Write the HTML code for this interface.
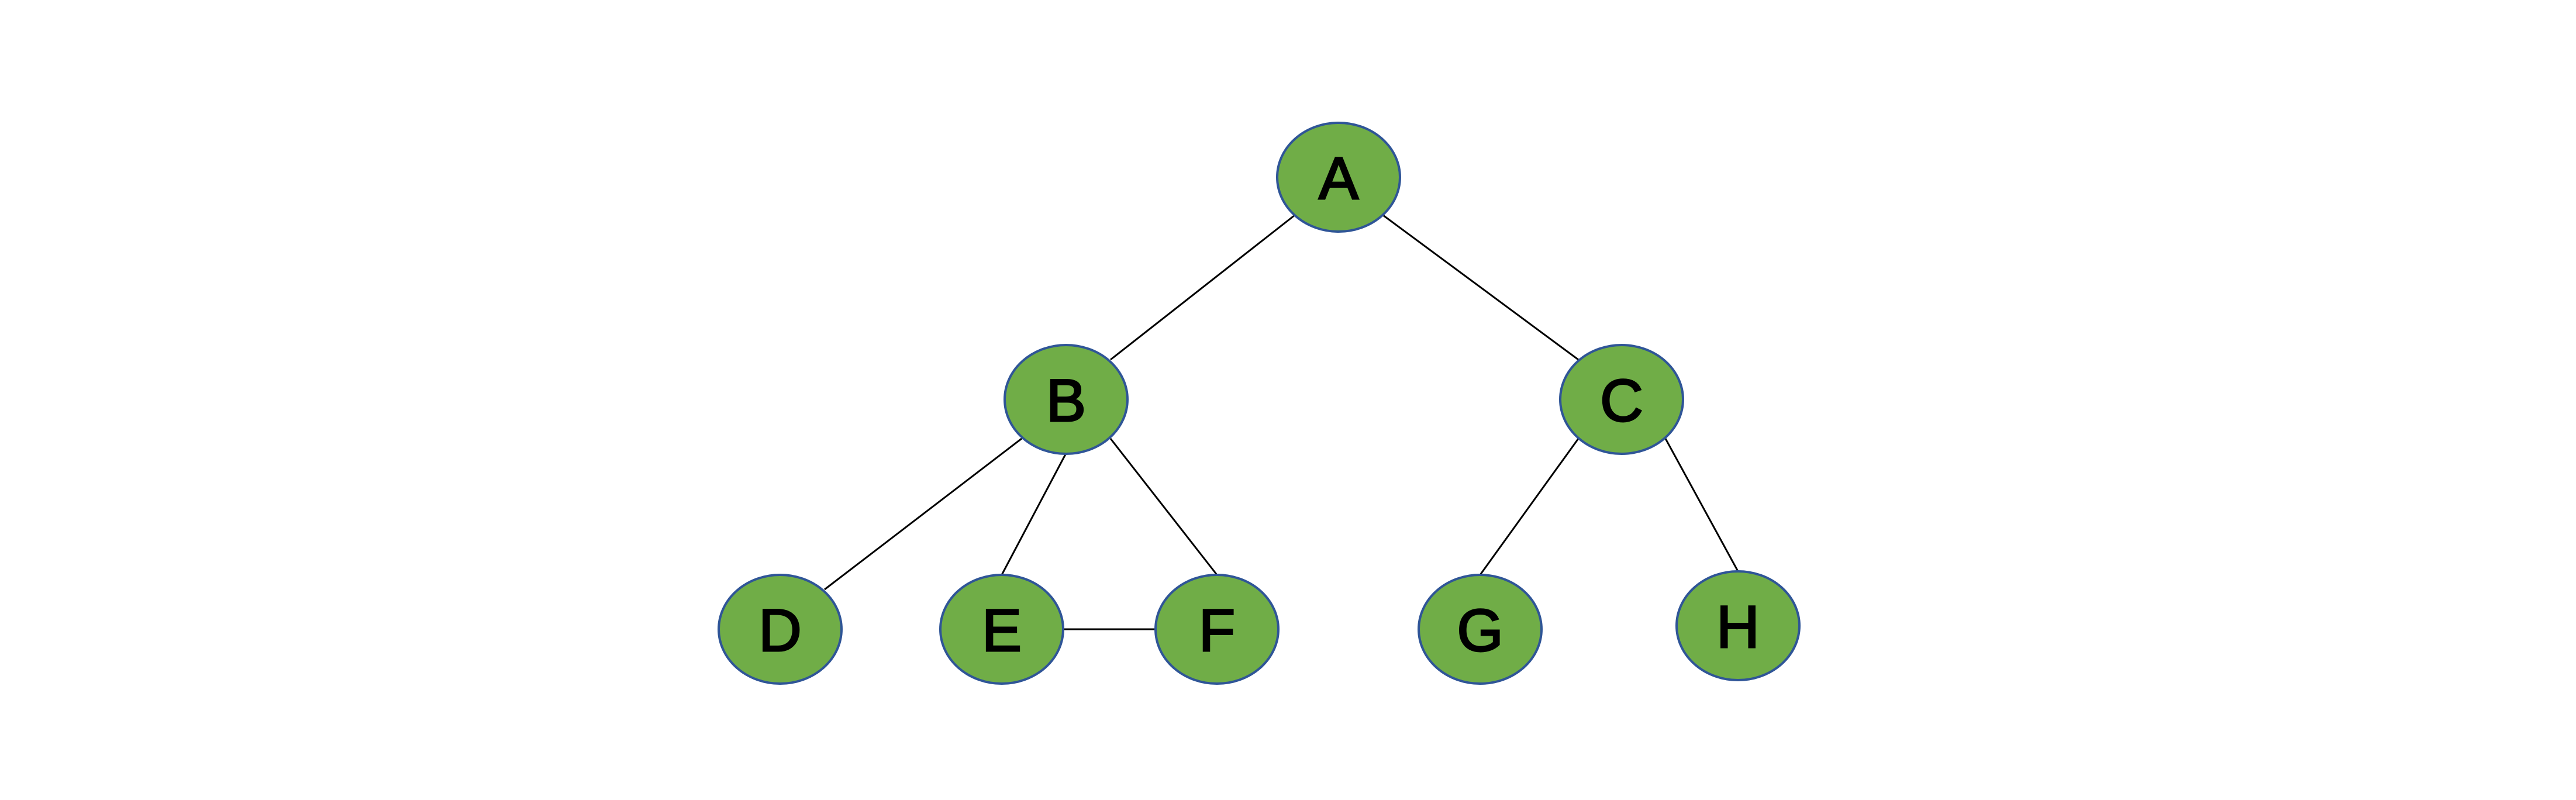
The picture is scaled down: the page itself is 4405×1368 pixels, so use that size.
<!DOCTYPE html>
<html><head><meta charset="utf-8"><style>
html,body{margin:0;padding:0;background:#fff;}
svg{display:block}
text{font-family:"Liberation Sans","DejaVu Sans",sans-serif;font-weight:normal;font-size:102px;fill:#000;stroke:#000;stroke-width:3}
</style></head><body>
<svg width="4405" height="1368" viewBox="0 0 4405 1368" xmlns="http://www.w3.org/2000/svg">
<g stroke="#000" stroke-width="3">
<line x1="2214" y1="368" x2="1899" y2="615"/>
<line x1="2365" y1="368" x2="2699" y2="615"/>
<line x1="1747" y1="750" x2="1410" y2="1008"/>
<line x1="1823" y1="775" x2="1713" y2="983"/>
<line x1="1899" y1="750" x2="2081" y2="983"/>
<line x1="1819" y1="1076" x2="1975" y2="1076"/>
<line x1="2699" y1="750" x2="2531" y2="983"/>
<line x1="2848" y1="750" x2="2972" y2="977"/>
</g>
<g fill="#70AD47" stroke="#2F5597" stroke-width="4">
<ellipse cx="2289" cy="303" rx="105" ry="93"/>
<ellipse cx="1823" cy="683" rx="105" ry="93"/>
<ellipse cx="2773" cy="683" rx="105" ry="93"/>
<ellipse cx="1334" cy="1076" rx="105" ry="93"/>
<ellipse cx="1713" cy="1076" rx="105" ry="93"/>
<ellipse cx="2081" cy="1076" rx="105" ry="93"/>
<ellipse cx="2531" cy="1076" rx="105" ry="93"/>
<ellipse cx="2972" cy="1070" rx="105" ry="93"/>
</g>
<g text-anchor="middle">
<text x="2289" y="340">A</text>
<text x="1823" y="720">B</text>
<text x="2773" y="720">C</text>
<text x="1334" y="1113">D</text>
<text x="1713" y="1113">E</text>
<text x="2081" y="1113">F</text>
<text x="2531" y="1113">G</text>
<text x="2972" y="1107">H</text>
</g>
</svg>
</body></html>
